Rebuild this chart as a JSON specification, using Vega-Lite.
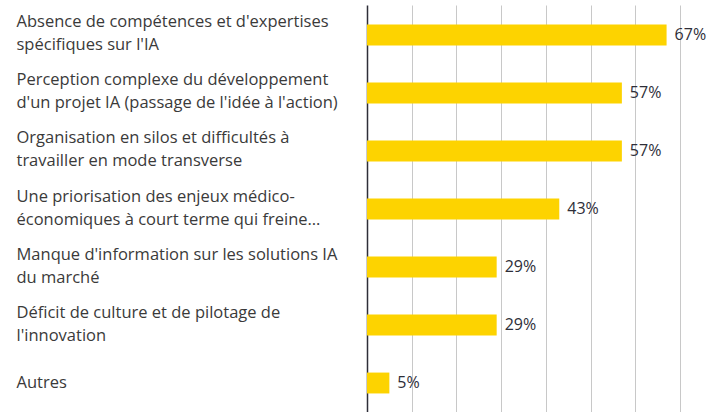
{
  "$schema": "https://vega.github.io/schema/vega-lite/v6.json",
  "autosize": "none",
  "width": 313,
  "height": 408,
  "padding": {"left": 367, "top": 5, "right": 43, "bottom": 0},
  "background": "white",
  "config": {"view": {"stroke": null}, "font": "Open Sans"},
  "data": {"values": [
    {"cat": "Absence de compétences et d'expertises|spécifiques sur l'IA", "v": 0.67},
    {"cat": "Perception complexe du développement|d'un projet IA (passage de l'idée à l'action)", "v": 0.57},
    {"cat": "Organisation en silos et difficultés à|travailler en mode transverse", "v": 0.57},
    {"cat": "Une priorisation des enjeux médico-|économiques à court terme qui freine…", "v": 0.43},
    {"cat": "Manque d'information sur les solutions IA|du marché", "v": 0.29},
    {"cat": "Déficit de culture et de pilotage de|l'innovation", "v": 0.29},
    {"cat": "Autres", "v": 0.05}
  ]},
  "encoding": {
    "y": {
      "field": "cat", "type": "nominal", "sort": null,
      "scale": {"paddingInner": 0.64, "paddingOuter": 0.337},
      "axis": {
        "title": null, "ticks": false, "domain": true, "domainColor": "#2e2e38", "domainWidth": 1.5,
        "labelAlign": "left", "labelPadding": 351, "labelFontSize": 16.5, "labelColor": "#3a3a3a",
        "labelFont": "Open Sans", "labelLineHeight": 23, "labelLimit": 400,
        "labelOffset": {"condition": {"test": "indexof(datum.value, '|') >= 0", "value": -12.5}, "value": 0},
        "labelExpr": "split(datum.label, '|')", "grid": false
      }
    },
    "x": {
      "field": "v", "type": "quantitative",
      "scale": {"domain": [0, 0.7], "nice": false},
      "axis": {
        "title": null, "labels": false, "ticks": false, "domain": false,
        "grid": true, "gridColor": "#c8c8c8", "gridWidth": 1,
        "values": [0.1, 0.2, 0.3, 0.4, 0.5, 0.6, 0.7]
      }
    }
  },
  "layer": [
    {"mark": {"type": "bar", "color": "#FDD300"}},
    {
      "mark": {"type": "text", "align": "left", "baseline": "middle", "dx": 8, "fontSize": 16, "color": "#2e2e38", "font": "Open Sans"},
      "encoding": {"text": {"field": "v", "type": "quantitative", "format": ".0%"}}
    }
  ]
}
